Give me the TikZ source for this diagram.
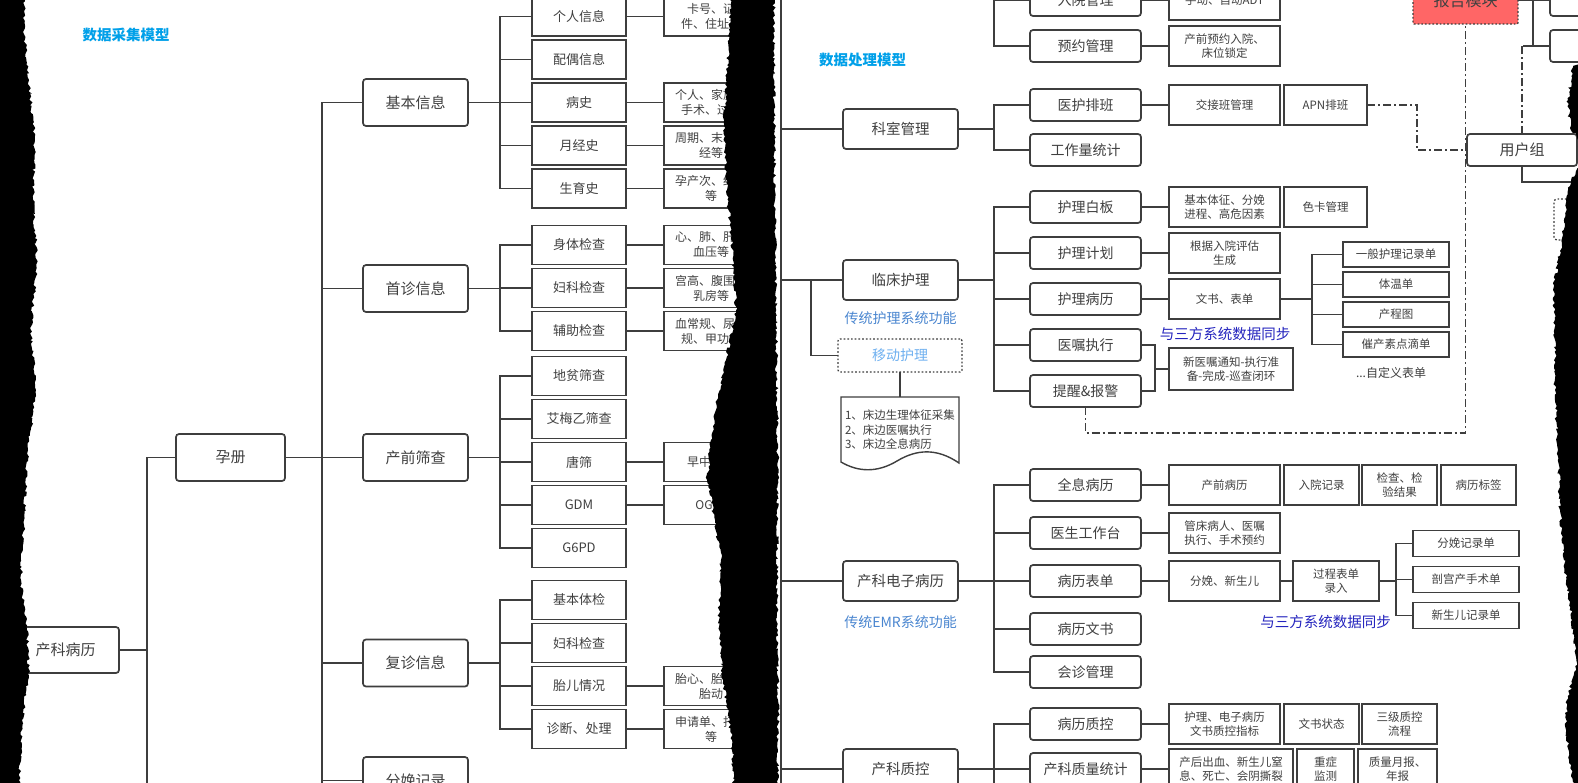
\documentclass[tikz,border=0pt]{standalone}
\usepackage{fontspec}
\setmainfont{Noto Sans CJK SC}
\usepackage{xcolor}
\usepackage{tikz}
\usetikzlibrary{positioning, decorations.pathmorphing}

\definecolor{lnc}{RGB}{62,62,62}
\definecolor{txc}{RGB}{64,64,64}
\definecolor{ttlblue}{RGB}{0,160,233}
\definecolor{fnblue}{RGB}{74,134,208}
\definecolor{mbblue}{RGB}{110,176,240}
\definecolor{syblue}{RGB}{36,36,190}
\definecolor{rptred}{RGB}{255,102,102}

\newcommand{\fsz}[2]{\fontsize{#1}{#2}\selectfont}

\tikzset{
  rbox/.style={
    rectangle, draw=lnc, line width=1.7pt, fill=white,
    rounded corners=3pt, text=txc, align=center,
    inner sep=1pt, outer sep=0pt
  },
  sbox/.style={
    rectangle, draw=lnc, line width=1.7pt, fill=white,
    text=txc, align=center, inner sep=1pt, outer sep=0pt
  },
  lk/.style={draw=lnc, line width=1.7pt},
  ddot/.style={draw=lnc, line width=1.5pt, dash pattern=on 8pt off 3pt on 2pt off 3pt},
  tear/.style={fill=black, decorate,
    decoration={random steps, segment length=2.5pt, amplitude=1.6pt}}
}

\begin{document}
\begin{tikzpicture}[x=1pt, y=-1pt,
    lA/.style={rbox, minimum width=107pt, minimum height=46pt, font=\fsz{15}{18}},
    lB/.style={rbox, minimum width=105pt, minimum height=47pt, font=\fsz{15}{18}},
    lC/.style={sbox, minimum width=94pt, minimum height=39pt, font=\fsz{13}{16}},
    lD/.style={sbox, minimum width=94pt, minimum height=39pt, font=\fsz{12}{15}},
    rA/.style={rbox, minimum width=115pt, minimum height=40pt, font=\fsz{14.5}{17}},
    rB/.style={rbox, minimum width=111pt, minimum height=32pt, font=\fsz{14}{17}},
    rC/.style={sbox, minimum width=111pt, minimum height=40pt, font=\fsz{11.5}{14}},
    rD/.style={sbox, minimum height=40pt, font=\fsz{11.5}{14}},
    rE/.style={sbox, minimum width=106pt, minimum height=25pt, font=\fsz{11.5}{14}},
    ttl/.style={font=\fsz{14.5}{17}\bfseries, text=ttlblue},
    fn/.style={font=\fsz{14}{17}, text=fnblue},
    sy/.style={font=\fsz{14.5}{17}, text=syblue}
  ]
  \useasboundingbox (0,0) rectangle (1578,782);
  \clip (0,0) rectangle (1578,782);
  \fill[white] (0,0) rectangle (1578,782);

  \node[ttl] (ttlA) at (126,34.5) {数据采集模型};
  \node[ttl] (ttlB) at (862.5,60) {数据处理模型};

  \node[lA] (cbl) at (65.5,650) {产科病历};
  \node[lA, minimum width=109pt, minimum height=47pt] (yc) at (230.5,457.5) {孕册};
  \node[lB] (jbxx) at (415.5,102.5) {基本信息};
  \node[lB] (szxx) at (415.5,288.5) {首诊信息};
  \node[lB] (cqsc) at (415.5,457.5) {产前筛查};
  \node[lB] (fzxx) at (415.5,663) {复诊信息};
  \node[lB] (fmjl) at (415.5,780.5) {分娩记录};

  \node[lC] (grxx) at (579,16.5) {个人信息};
  \node[lC, below=4pt of grxx] (poxx) {配偶信息};
  \node[lC, below=4pt of poxx] (bs) {病史};
  \node[lC, below=4pt of bs] (yjs) {月经史};
  \node[lC, below=4pt of yjs] (sys) {生育史};
  \node[lC] (stjc) at (579,245) {身体检查};
  \node[lC, below=4pt of stjc] (fkjc) {妇科检查};
  \node[lC, below=4pt of fkjc] (fzjc) {辅助检查};
  \node[lC] (dpsc) at (579,376) {地贫筛查};
  \node[lC, below=4pt of dpsc] (amy) {艾梅乙筛查};
  \node[lC, below=4pt of amy] (ts) {唐筛};
  \node[lC, below=4pt of ts] (gdm) {GDM};
  \node[lC, below=4pt of gdm] (gpd) {G6PD};
  \node[lC] (jbtj) at (579,600) {基本体检};
  \node[lC, below=4pt of jbtj] (fkjcb) {妇科检查};
  \node[lC, below=4pt of fkjcb] (texq) {胎儿情况};
  \node[lC, below=4pt of texq] (zdcl) {诊断、处理};

  \node[lD, right=38pt of grxx] (grxxD) {卡号、证\\件、住址等};
  \node[lD, right=38pt of bs] (bsD) {个人、家族史\\手术、过敏};
  \node[lD, right=38pt of yjs] (yjsD) {周期、末次月\\经等};
  \node[lD, right=38pt of sys] (sysD) {孕产次、结局\\等};
  \node[lD, right=38pt of stjc] (stjcD) {心、肺、肝、\\血压等};
  \node[lD, right=38pt of fkjc] (fkjcD) {宫高、腹围、\\乳房等};
  \node[lD, right=38pt of fzjc] (fzjcD) {血常规、尿常\\规、甲功等};
  \node[lD, right=38pt of ts] (tsD) {早中孕筛};
  \node[lD, right=38pt of gdm] (gdmD) {OGTT};
  \node[lD, right=38pt of texq] (texqD) {胎心、胎位、\\胎动};
  \node[lD, right=38pt of zdcl] (zdclD) {申请单、打印\\等};

  \draw[lk] (cbl.east) -- ++(28,0);
  \draw[lk] (yc.west) -- ++(-29,0) -- ++(0,350);
  \draw[lk] (yc.east) -- (cqsc.west);
  \draw[lk] (jbxx.west) -- ++(-41,0) -- ++(0,720);
  \draw[lk] (szxx.west) -- ++(-41,0);
  \draw[lk] (fzxx.west) -- ++(-41,0);
  \draw[lk] (fmjl.west) -- ++(-41,0);

  \draw[lk] (jbxx.east) -- ++(32,0);
  \draw[lk] (grxx.west) -- ++(-32,0) |- (sys.west);
  \draw[lk] (poxx.west) -- ++(-32,0);
  \draw[lk] (bs.west) -- ++(-32,0);
  \draw[lk] (yjs.west) -- ++(-32,0);
  \draw[lk] (szxx.east) -- ++(32,0);
  \draw[lk] (stjc.west) -- ++(-32,0) |- (fzjc.west);
  \draw[lk] (fkjc.west) -- ++(-32,0);
  \draw[lk] (cqsc.east) -- ++(32,0);
  \draw[lk] (dpsc.west) -- ++(-32,0) |- (gpd.west);
  \draw[lk] (amy.west) -- ++(-32,0);
  \draw[lk] (ts.west) -- ++(-32,0);
  \draw[lk] (gdm.west) -- ++(-32,0);
  \draw[lk] (fzxx.east) -- ++(32,0);
  \draw[lk] (jbtj.west) -- ++(-32,0) |- (zdcl.west);
  \draw[lk] (fkjcb.west) -- ++(-32,0);
  \draw[lk] (texq.west) -- ++(-32,0);

  \draw[lk] (grxx) -- (grxxD);
  \draw[lk] (bs) -- (bsD);
  \draw[lk] (yjs) -- (yjsD);
  \draw[lk] (sys) -- (sysD);
  \draw[lk] (stjc) -- (stjcD);
  \draw[lk] (fkjc) -- (fkjcD);
  \draw[lk] (fzjc) -- (fzjcD);
  \draw[lk] (ts) -- (tsD);
  \draw[lk] (gdm) -- (gdmD);
  \draw[lk] (texq) -- (texqD);
  \draw[lk] (zdcl) -- (zdclD);

  \coordinate (ttop) at (781,-10);
  \coordinate (tbot) at (781,800);
  \draw[lk] (ttop) -- (tbot);

  \node[rA] (ksgl) at (900.5,129) {科室管理};
  \node[rA] (lchl) at (900.5,280) {临床护理};
  \node[rA] (dzbl) at (900.5,581) {产科电子病历};
  \node[rA] (cczk) at (900.5,769) {产科质控};
  \node[fn] (fnA) at (900.5,318) {传统护理系统功能};
  \node[fn] (fnB) at (900.5,622) {传统EMR系统功能};
  \node[rbox, dotted, line width=1.3pt, rounded corners=2pt, minimum width=124pt,
        minimum height=33pt, text=mbblue, font=\fsz{14}{17}] (ydhl) at (900,355.5) {移动护理};
  \node[align=left, text=txc, font=\fsz{11.5}{14.5}, minimum width=118pt, minimum height=66pt,
        inner sep=0pt, outer sep=0pt] (docx) at (900,430)
        {1、床边生理体征采集\\2、床边医嘱执行\\3、床边全息病历};
  \draw[draw=lnc, line width=1.4pt] (841,397) -- (959,397) -- (959,463)
        .. controls (937,448) and (917,449) .. (897,461)
        .. controls (877,473) and (858,472) .. (841,462) -- cycle;

  \node[rB] (rygl) at (1085.5,0) {入院管理};
  \node[rB, below=14pt of rygl] (yygl) {预约管理};
  \node[rB] (hpb) at (1085.5,105) {医护排班};
  \node[rB, below=13pt of hpb] (gzl) {工作量统计};
  \node[rB] (hlbb) at (1085.5,207) {护理白板};
  \node[rB, below=14pt of hlbb] (hljh) {护理计划};
  \node[rB, below=14pt of hljh] (hlbl) {护理病历};
  \node[rB, below=14pt of hlbl] (yzzx) {医嘱执行};
  \node[rB, below=14pt of yzzx] (txbj) {提醒\&报警};
  \node[rB] (qxbl) at (1085.5,485) {全息病历};
  \node[rB, below=16pt of qxbl] (yszt) {医生工作台};
  \node[rB, below=16pt of yszt] (blbd) {病历表单};
  \node[rB, below=16pt of blbd] (blws) {病历文书};
  \node[rB, below=11pt of blws] (hzgl) {会诊管理};
  \node[rB] (blzk) at (1085.5,724) {病历质控};
  \node[rB, below=13pt of blzk] (zltj) {产科质量统计};

  \node[rC, right=28pt of rygl] (adt) {手动、自动ADT};
  \node[rC, right=28pt of yygl] (yyrz) {产前预约入院、\\床位锁定};
  \node[rC, right=28pt of hpb] (jjb) {交接班管理};
  \node[rD, minimum width=83pt, right=4pt of jjb] (apn) {APN排班};
  \node[rC, right=28pt of hlbb] (tz) {基本体征、分娩\\进程、高危因素};
  \node[rD, minimum width=83pt, right=4pt of tz] (skgl) {色卡管理};
  \node[rC, right=28pt of hljh] (pg) {根据入院评估\\生成};
  \node[rC, right=28pt of hlbl] (wsbd) {文书、表单};
  \node[rC, minimum width=124pt, minimum height=42pt] (xyz) at (1231,369)
        {新医嘱通知-执行准\\备-完成-巡查闭环};
  \node[sy] (syA) at (1225,334) {与三方系统数据同步};
  \node[rE] (ybhl) at (1396,254.5) {一般护理记录单};
  \node[rE, below=5pt of ybhl] (twd) {体温单};
  \node[rE, below=5pt of twd] (cct) {产程图};
  \node[rE, below=5pt of cct] (ccs) {催产素点滴单};
  \node[font=\fsz{12}{14}, text=txc] (zdy) at (1391,373) {...自定义表单};

  \node[rC, right=28pt of qxbl] (cqbl) {产前病历};
  \node[rD, minimum width=75pt, right=4pt of cqbl] (ryjl) {入院记录};
  \node[rD, minimum width=75pt, right=3pt of ryjl] (jcjy) {检查、检\\验结果};
  \node[rD, minimum width=75pt, right=4pt of jcjy] (blbq) {病历标签};
  \node[rC, right=28pt of yszt] (gcbr) {管床病人、医嘱\\执行、手术预约};
  \node[rC, right=28pt of blbd] (fmxs) {分娩、新生儿};
  \node[rD, minimum width=86pt, right=13pt of fmxs] (gclr) {过程表单\\录入};
  \node[rE, minimum height=26pt] (fmjld) at (1466,543.5) {分娩记录单};
  \node[rE, minimum height=26pt, below=10pt of fmjld] (pgc) {剖宫产手术单};
  \node[rE, minimum height=26pt, below=10pt of pgc] (xsejl) {新生儿记录单};
  \node[sy] (syB) at (1325.5,622) {与三方系统数据同步};

  \node[rC, right=28pt of blzk] (zkzb) {护理、电子病历\\文书质控指标};
  \node[rD, minimum width=75pt, right=4pt of zkzb] (wszt) {文书状态};
  \node[rD, minimum width=75pt, right=3pt of wszt] (sjzk) {三级质控\\流程};
  \node[rC, minimum width=124pt, right=28pt of zltj] (cxcx) {产后出血、新生儿窒\\息、死亡、会阴撕裂};
  \node[rD, minimum width=57pt, right=4pt of cxcx] (zzjc) {重症\\监测};
  \node[rD, minimum width=79pt, right=4pt of zzjc] (ydnb) {质量月报、\\年报};

  \node[rbox, fill=rptred, dotted, line width=1.3pt, rounded corners=1pt, minimum width=105pt,
        minimum height=48pt, font=\fsz{16}{19}] (bgmk) at (1465.5,0) {报告模块};
  \node[rB, minimum width=110pt, font=\fsz{15}{18}] (yhz) at (1522,150) {用户组};
  \node[rB, minimum width=100pt] (rtA) at (1600,0) {};
  \node[rB, minimum width=100pt] (rtB) at (1600,46) {};
  \node[rbox, dotted, line width=1.3pt, minimum width=60pt, minimum height=41pt] (rtC) at (1584,219.5) {};

  \draw[lk] (ksgl.west) -- ++(-62,0);
  \draw[lk] (lchl.west) -- ++(-62,0);
  \draw[lk] (dzbl.west) -- ++(-62,0);
  \draw[lk] (cczk.west) -- ++(-62,0);
  \draw[lk] (lchl.west) ++(-32,0) |- (ydhl.west);
  \draw[lk] (ydhl) -- (docx);

  \draw[lk] (yygl.west) -- ++(-36,0) -- ++(0,-70);
  \draw[lk] (rygl.west) -- ++(-36,0);
  \draw[lk] (ksgl.east) -- ++(36,0);
  \draw[lk] (hpb.west) -- ++(-36,0) |- (gzl.west);
  \draw[lk] (lchl.east) -- ++(36,0);
  \draw[lk] (hlbb.west) -- ++(-36,0) |- (txbj.west);
  \draw[lk] (hljh.west) -- ++(-36,0);
  \draw[lk] (hlbl.west) -- ++(-36,0);
  \draw[lk] (yzzx.west) -- ++(-36,0);
  \draw[lk] (dzbl.east) -- ++(36,0);
  \draw[lk] (qxbl.west) -- ++(-36,0) |- (hzgl.west);
  \draw[lk] (yszt.west) -- ++(-36,0);
  \draw[lk] (blbd.west) -- ++(-36,0);
  \draw[lk] (blws.west) -- ++(-36,0);
  \draw[lk] (cczk.east) -- ++(36,0);
  \draw[lk] (blzk.west) -- ++(-36,0) -- ++(0,100);
  \draw[lk] (zltj.west) -- ++(-36,0);

  \draw[lk] (rygl) -- (adt);
  \draw[lk] (yygl) -- (yyrz);
  \draw[lk] (hpb) -- (jjb);
  \draw[lk] (hlbb) -- (tz);
  \draw[lk] (hljh) -- (pg);
  \draw[lk] (hlbl) -- (wsbd);
  \draw[lk] (qxbl) -- (cqbl);
  \draw[lk] (yszt) -- (gcbr);
  \draw[lk] (blbd) -- (fmxs);
  \draw[lk] (blzk) -- (zkzb);
  \draw[lk] (zltj) -- (cxcx);
  \draw[lk] (yzzx.east) -- ++(14,0) |- (txbj.east);
  \draw[lk] (xyz.west) -- ++(-14,0);
  \draw[lk] (wsbd.east) -- ++(32,0);
  \draw[lk] (ybhl.west) -- ++(-31,0) |- (ccs.west);
  \draw[lk] (twd.west) -- ++(-31,0);
  \draw[lk] (cct.west) -- ++(-31,0);
  \draw[lk] (fmxs) -- (gclr);
  \draw[lk] (gclr.east) -- ++(17,0);
  \draw[lk] (fmjld.west) -- ++(-17,0) |- (xsejl.west);
  \draw[lk] (pgc.west) -- ++(-17,0);

  \draw[ddot] (apn.east) -- ++(50,0) |- (yhz.west);
  \coordinate (dcnr) at (1465.5,433);
  \draw[ddot] (txbj.south) |- (dcnr) -- (bgmk.south);
  \draw[ddot] (yhz.north) -- ++(0,-88);
  \draw[lk] (bgmk.east) -- (rtA.west);
  \draw[lk] (rtB.west) -- ++(-27,0);
  \draw[lk] (rtB.west) ++(-17,0) -- ++(0,-46);
  \draw[lk] (yhz.south) -- ++(0,16) -- ++(80,0);

  \pgfmathsetseed{11}
  \fill[tear] (-20,-20) -- (25,-20) -- (24,30) -- (29,80) -- (35,140) -- (33,200) -- (37,260)
    -- (31,330) -- (36,390) -- (28,450) -- (24,520) -- (21,580) -- (27,630) -- (29,675)
    -- (22,720) -- (19,800) -- (-20,800) -- cycle;
  \fill[tear] (731,-20) -- (729,40) -- (724,120) -- (727,190) -- (733,260) -- (736,310)
    -- (726,360) -- (717,400) -- (711,440) -- (707,480) -- (715,520) -- (721,560) -- (719,620)
    -- (723,680) -- (732,740) -- (734,800) -- (778,800) -- (778,700) -- (777,600) -- (778,480)
    -- (777,400) -- (776,300) -- (775,200) -- (774,100) -- (774,-20) -- cycle;
  \fill[tear] (1600,60) -- (1573,66) -- (1568,100) -- (1570,128) -- (1579,140) -- (1580,165)
    -- (1571,180) -- (1566,200) -- (1563,235) -- (1553,290) -- (1555,340) -- (1555,390)
    -- (1558,450) -- (1560,510) -- (1564,560) -- (1572,620) -- (1577,665) -- (1567,700)
    -- (1566,730) -- (1573,782) -- (1600,800) -- cycle;
\end{tikzpicture}
\end{document}
